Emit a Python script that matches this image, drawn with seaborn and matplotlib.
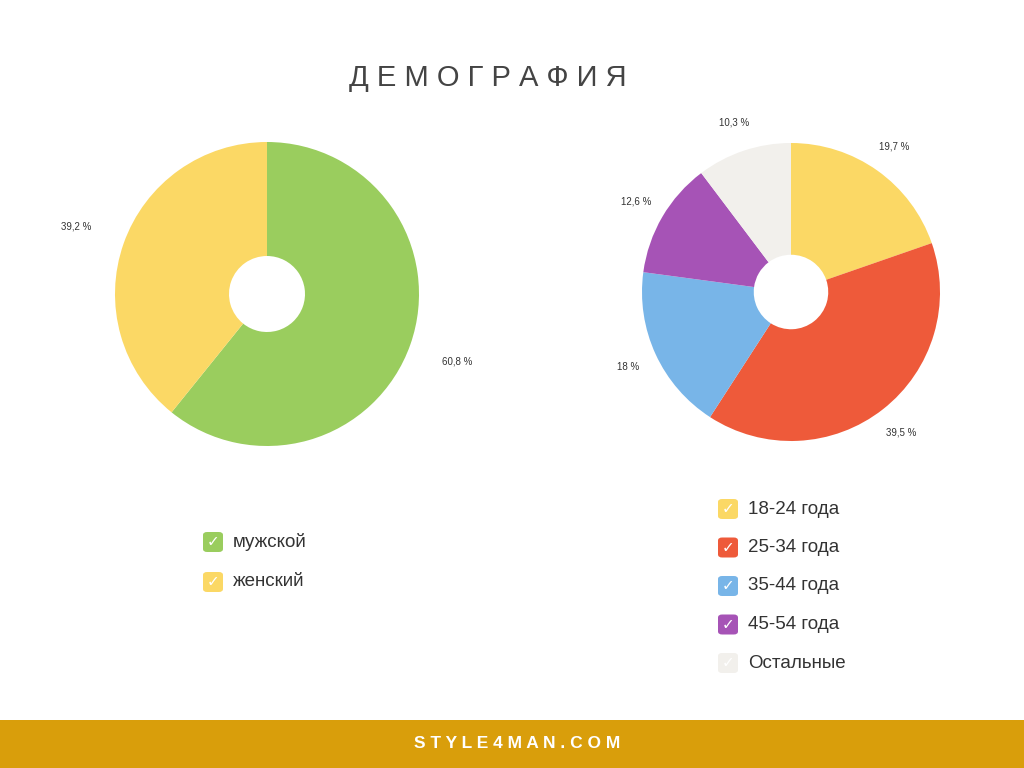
import matplotlib
matplotlib.use("Agg")
import matplotlib.pyplot as plt
import seaborn as sns
from matplotlib.patches import FancyBboxPatch, Rectangle

sns.set_theme(style="white")
plt.rcParams['font.family'] = ['Liberation Sans', 'DejaVu Sans']

# данные
gender_names = ["мужской", "женский"]
gender_values = [60.8, 39.2]
gender_labels = ["60,8 %", "39,2 %"]
gender_colors = ["#9ACD5E", "#FBD865"]

age_names = ["18-24 года", "25-34 года", "35-44 года", "45-54 года", "Остальные"]
age_values = [19.7, 39.5, 18.0, 12.6, 10.3]
age_labels = ["19,7 %", "39,5 %", "18 %", "12,6 %", "10,3 %"]
age_colors = ["#FBD865", "#EE5A3A", "#78B5E8", "#A653B6", "#F2F0EC"]

W, H = 1024, 768
fig = plt.figure(figsize=(W / 100, H / 100), dpi=100)
fig.patch.set_facecolor("white")


def donut(cx, cy, r, values, labels, colors, dist):
    ax = fig.add_axes([(cx - r) / W, 1 - (cy + r) / H, 2 * r / W, 2 * r / H])
    it = iter(labels)
    ax.pie(values, colors=colors, startangle=90, counterclock=False,
           autopct=lambda p: next(it), pctdistance=dist,
           wedgeprops=dict(width=0.75, linewidth=0),
           textprops=dict(fontsize=7, color="#333333"))
    ax.set_xlim(-1, 1)
    ax.set_ylim(-1, 1)
    ax.set_aspect("equal")
    ax.axis("off")


def legend(x, y0, step, names, colors):
    for i, (n, c) in enumerate(zip(names, colors)):
        y = y0 + i * step
        fig.patches.append(FancyBboxPatch((x / W, 1 - (y + 10) / H), 20 / W, 20 / H,
                                          boxstyle="round,pad=0,rounding_size=0.004",
                                          transform=fig.transFigure, facecolor=c,
                                          edgecolor="none"))
        fig.text((x + 10) / W, 1 - y / H, "✓", color="white", fontsize=11,
                 ha="center", va="center", family="DejaVu Sans", weight="bold")
        fig.text((x + 30) / W, 1 - y / H, n, color="#333333", fontsize=13.5,
                 ha="left", va="center")


donut(267, 294, 152, gender_values, gender_labels, gender_colors, 1.33)
donut(791, 292, 149, age_values, age_labels, age_colors, 1.2)

legend(203, 542, 40, gender_names, gender_colors)
legend(718, 509, 38.5, age_names, age_colors)

fig.text(488 / W, 1 - 78 / H, " ".join("ДЕМОГРАФИЯ"), fontsize=21,
         color="#444444", ha="center", va="center")

fig.patches.append(Rectangle((0, 0), 1, 48 / H, transform=fig.transFigure,
                             facecolor="#D99E0B", edgecolor="none"))
fig.text(517 / W, 1 - 744 / H, " ".join("STYLE4MAN.COM"), fontsize=12.5,
         color="white", weight="bold", ha="center", va="center")

fig.savefig("out.png", dpi=100)
